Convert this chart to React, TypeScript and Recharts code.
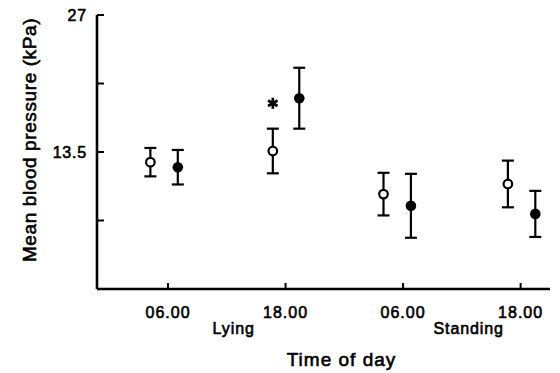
import { ScatterChart, Scatter, XAxis, YAxis, ErrorBar } from 'recharts';

// times in hours from the first midnight, lying then standing
const timeTicks = [6, 18, 30, 42];
const timeLabels = ['06.00', '18.00', '06.00', '18.00'];
const groupTicks = [12.5, 36.5];
const groupLabels = ['Lying', 'Standing'];
const pressureTicks = [0, 6.75, 13.5, 20.25, 27];
const labelledPressure = [13.5, 27];

const openTime = [4.2, 16.7, 28.0, 40.7];
const openMean = [12.5, 13.6, 9.35, 10.35];
const openErr = [1.4, 2.2, 2.1, 2.3];

const filledTime = [7.0, 19.4, 30.8, 43.5];
const filledMean = [12.0, 18.8, 8.2, 7.4];
const filledErr = [1.7, 3.0, 3.15, 2.27];

// significance marker above the 18.00 lying reading
const starTime = [16.7];
const starValue = [18.3];

const openData = openTime.map((t, i) => ({ t, v: openMean[i], e: openErr[i] }));
const filledData = filledTime.map((t, i) => ({ t, v: filledMean[i], e: filledErr[i] }));
const starData = starTime.map((t, i) => ({ t, v: starValue[i] }));

const font = '"Liberation Sans", Arial, sans-serif';
const ink = '#000';

const TimeTick = (props: any) => {
  const { x, y, payload } = props;
  const idx = timeTicks.indexOf(payload.value);
  return (
    <g>
      <line x1={x} x2={x} y1={y} y2={y - 6} stroke={ink} strokeWidth={2} />
      <text
        x={x}
        y={y + 29}
        textAnchor="middle"
        fontFamily={font}
        fontSize={16}
        letterSpacing={1}
        fill={ink}
        stroke={ink}
        strokeWidth={0.6}
      >
        {timeLabels[idx]}
      </text>
    </g>
  );
};

const GroupTick = (props: any) => {
  const { x, y, payload } = props;
  const idx = groupTicks.indexOf(payload.value);
  return (
    <text
      x={x + 2}
      y={y + 14.5}
      textAnchor="middle"
      fontFamily={font}
      fontSize={16}
      letterSpacing={0.9}
      fill={ink}
      stroke={ink}
      strokeWidth={0.6}
    >
      {groupLabels[idx]}
    </text>
  );
};

const PressureTick = (props: any) => {
  const { x, y, payload } = props;
  const show = labelledPressure.includes(payload.value);
  return (
    <g>
      <line x1={x} x2={x + 7} y1={y} y2={y} stroke={ink} strokeWidth={2} />
      {show && (
        <text
          x={x - 10}
          y={y + 6}
          textAnchor="end"
          fontFamily={font}
          fontSize={16}
          letterSpacing={0.8}
          fill={ink}
          stroke={ink}
          strokeWidth={0.6}
        >
          {payload.value}
        </text>
      )}
    </g>
  );
};

const OpenDot = (props: any) => (
  <circle cx={props.cx} cy={props.cy} r={4.3} fill="#fff" stroke={ink} strokeWidth={2.2} />
);

const FilledDot = (props: any) => <circle cx={props.cx} cy={props.cy} r={5.3} fill={ink} />;

const Star = (props: any) => {
  const { cx, cy } = props;
  const arms = [90, 30, 150].map((deg) => {
    const a = (deg * Math.PI) / 180;
    const dx = Math.cos(a) * 5.5;
    const dy = Math.sin(a) * 5.5;
    return <line key={deg} x1={cx - dx} y1={cy - dy} x2={cx + dx} y2={cy + dy} stroke={ink} strokeWidth={2.7} />;
  });
  return <g>{arms}</g>;
};

export default function App() {
  return (
    <div style={{ position: 'absolute', left: 0, top: 0, background: '#fff' }}>
      <ScatterChart width={560} height={373} margin={{ top: 15, right: 10, bottom: 0, left: 0 }}>
        <XAxis
          xAxisId={0}
          type="number"
          dataKey="t"
          domain={[-1.25, 45]}
          allowDataOverflow
          ticks={timeTicks}
          interval={0}
          height={30}
          tickSize={0}
          tickMargin={0}
          tickLine={false}
          axisLine={{ stroke: ink, strokeWidth: 2.6 }}
          tick={<TimeTick />}
        />
        <XAxis
          xAxisId="g"
          type="number"
          dataKey="t"
          domain={[-1.25, 45]}
          allowDataOverflow
          ticks={groupTicks}
          interval={0}
          height={54}
          tickSize={0}
          tickMargin={0}
          tickLine={false}
          axisLine={false}
          tick={<GroupTick />}
          label={{
            content: (p: any) => (
              <text
                x={p.viewBox.x + p.viewBox.width / 2 + 18}
                y={p.viewBox.y + 47}
                textAnchor="middle"
                fontFamily={font}
                fontSize={19}
                letterSpacing={1}
                fill={ink}
                stroke={ink}
                strokeWidth={0.6}
              >
                Time of day
              </text>
            ),
          }}
        />
        <YAxis
          type="number"
          dataKey="v"
          domain={[0, 27]}
          allowDataOverflow
          ticks={pressureTicks}
          interval={0}
          width={97}
          tickSize={0}
          tickMargin={0}
          tickLine={false}
          axisLine={{ stroke: ink, strokeWidth: 2.6 }}
          tick={<PressureTick />}
          label={{
            content: (p: any) => {
              const cx = 36;
              const cy = p.viewBox.y + 125;
              return (
                <text
                  x={cx}
                  y={cy}
                  transform={`rotate(-90, ${cx}, ${cy})`}
                  textAnchor="middle"
                  fontFamily={font}
                  fontSize={19}
                  letterSpacing={0.6}
                  fill={ink}
                  stroke={ink}
                  strokeWidth={0.6}
                >
                  Mean blood pressure (kPa)
                </text>
              );
            },
          }}
        />
        <Scatter data={openData} shape={<OpenDot />} isAnimationActive={false}>
          <ErrorBar dataKey="e" direction="y" width={6} strokeWidth={2.2} stroke={ink} />
        </Scatter>
        <Scatter data={filledData} shape={<FilledDot />} isAnimationActive={false}>
          <ErrorBar dataKey="e" direction="y" width={6} strokeWidth={2.2} stroke={ink} />
        </Scatter>
        <Scatter data={starData} shape={<Star />} isAnimationActive={false} />
      </ScatterChart>
    </div>
  );
}
